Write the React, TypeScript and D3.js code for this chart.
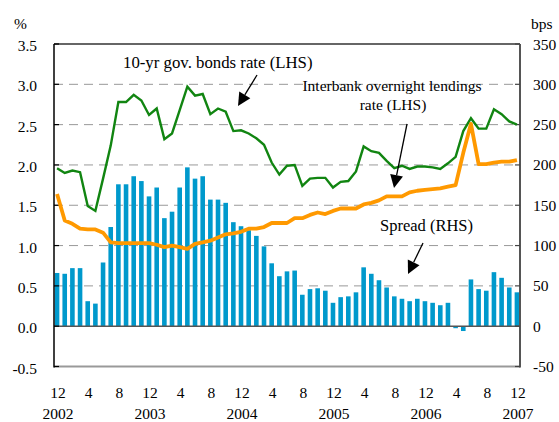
import React from 'react';
import * as d3 from 'd3';

// monthly periods, Dec 2002 .. Dec 2007
const months = d3.timeMonth.range(new Date(2002, 11, 1), new Date(2008, 0, 1));

// 10-yr government bonds rate, % (LHS)
const bondRate = [
  1.96, 1.9, 1.93, 1.91, 1.49, 1.43, 1.83, 2.24, 2.78, 2.78, 2.87, 2.8, 2.62,
  2.7, 2.32, 2.39, 2.68, 2.97, 2.86, 2.88, 2.63, 2.7, 2.66, 2.42, 2.43, 2.39,
  2.33, 2.25, 2.03, 1.88, 1.99, 2.0, 1.74, 1.83, 1.84, 1.84, 1.72, 1.79, 1.8,
  1.92, 2.23, 2.17, 2.15, 2.05, 1.96, 1.99, 1.95, 1.98, 1.98, 1.97, 1.95, 2.02,
  2.1, 2.42, 2.58, 2.45, 2.45, 2.69, 2.63, 2.54, 2.5,
];

// interbank overnight lendings rate, % (LHS)
const overnightRate = [
  1.64, 1.31, 1.27, 1.21, 1.2, 1.2, 1.16, 1.04, 1.03, 1.03, 1.03, 1.03, 1.03,
  1.01, 0.98, 1.0, 0.98, 0.96, 1.02, 1.04, 1.06, 1.1, 1.14, 1.15, 1.17, 1.21,
  1.21, 1.23, 1.28, 1.28, 1.28, 1.34, 1.34, 1.38, 1.41, 1.39, 1.43, 1.46, 1.46,
  1.46, 1.51, 1.53, 1.56, 1.61, 1.61, 1.61, 1.66, 1.68, 1.69, 1.7, 1.71, 1.73,
  1.75, 2.15, 2.51, 2.01, 2.01, 2.03, 2.04, 2.04, 2.06,
];

// spread, bps (RHS)
const spreadBps = [
  66, 65, 72, 72, 31, 28, 79, 123, 176, 176, 186, 180, 161, 172, 134, 142, 172,
  197, 183, 186, 157, 157, 153, 129, 124, 119, 112, 99, 78, 62, 68, 69, 39, 46,
  47, 44, 29, 36, 37, 42, 73, 65, 57, 48, 37, 34, 31, 34, 31, 29, 26, 29, -2.5,
  -6, 58, 46, 44, 67, 60, 48, 42,
];

const leftTicks = [-0.5, 0, 0.5, 1, 1.5, 2, 2.5, 3, 3.5];
const rightTicks = [-50, 0, 50, 100, 150, 200, 250, 300, 350];
const yearLabels = ['2002', '2003', '2004', '2005', '2006', '2007'];

const W = 559;
const H = 422;
const X0 = 54;
const X1 = 520;
const Y0 = 366.5;
const Y1 = 44;

const FONT = '"Liberation Serif", "Times New Roman", serif';

function Arrow({ x1, y1, x2, y2 }: { x1: number; y1: number; x2: number; y2: number }) {
  const dx = x2 - x1;
  const dy = y2 - y1;
  const len = Math.sqrt(dx * dx + dy * dy);
  const ux = dx / len;
  const uy = dy / len;
  const hl = 13;
  const hw = 6.5;
  const bx = x2 - ux * hl;
  const by = y2 - uy * hl;
  const pts = [
    [x2, y2],
    [bx - uy * hw, by + ux * hw],
    [bx + uy * hw, by - ux * hw],
  ];
  return (
    <g>
      <line x1={x1} y1={y1} x2={bx} y2={by} stroke="#000" strokeWidth={1.3} />
      <polygon points={pts.map((p) => p.join(',')).join(' ')} fill="#000" />
    </g>
  );
}

export default function App() {
  const idx = d3.range(months.length);
  const x = d3.scaleBand<number>().domain(idx).range([X0, X1]).paddingInner(0.4).paddingOuter(0.1);
  const yL = d3.scaleLinear().domain([-0.5, 3.5]).range([Y0, Y1]);
  const yR = d3.scaleLinear().domain([-50, 350]).range([Y0, Y1]);
  const cx = (i: number) => (x(i) as number) + x.bandwidth() / 2;

  const line = d3
    .line<number>()
    .x((_, i) => cx(i))
    .y((d) => yL(d));

  const monthTicks = idx.filter((i) => i % 4 === 0);
  const decTicks = idx.filter((i) => months[i].getMonth() === 11);

  return (
    <svg
      width={W}
      height={H}
      style={{ position: 'absolute', left: 0, top: 0, background: '#fff', fontFamily: FONT }}
    >
      {/* gridlines */}
      {leftTicks
        .filter((t) => t > -0.5 && t < 3.5 && t !== 0)
        .map((t) => (
          <line
            key={t}
            x1={X0}
            x2={X1}
            y1={yL(t)}
            y2={yL(t)}
            stroke="#999"
            strokeWidth={1}
            strokeDasharray="9,6"
          />
        ))}

      {/* spread bars */}
      {spreadBps.map((v, i) => (
        <rect
          key={i}
          x={x(i)}
          width={x.bandwidth()}
          y={Math.min(yR(v), yR(0))}
          height={Math.abs(yR(v) - yR(0))}
          fill="#0099cc"
        />
      ))}

      {/* frame */}
      <line x1={X0} x2={X1} y1={yL(0)} y2={yL(0)} stroke="#555" strokeWidth={1.5} />
      <line x1={X0} x2={X1} y1={Y1} y2={Y1} stroke="#666" strokeWidth={2} />
      <line x1={X0} x2={X1} y1={Y0} y2={Y0} stroke="#999" strokeWidth={2} />
      <line x1={X1} x2={X1} y1={Y1} y2={Y0 + 1} stroke="#555" strokeWidth={2} />
      <line x1={X0} x2={X0} y1={Y1} y2={Y0 + 1} stroke="#000" strokeWidth={1.5} />

      {leftTicks.map((t) => (
        <g key={t}>
          <line x1={X0} x2={X0 + 5} y1={yL(t)} y2={yL(t)} stroke="#000" strokeWidth={1.2} />
          <text x={37} y={yL(t) + 7} textAnchor="end" fontSize={15.5} fill="#000">
            {t.toFixed(1)}
          </text>
        </g>
      ))}
      {rightTicks.map((t) => (
        <g key={t}>
          <line x1={X1 - 5} x2={X1} y1={yR(t)} y2={yR(t)} stroke="#444" strokeWidth={1.2} />
          <text x={533} y={yR(t) + 5.5} textAnchor="start" fontSize={15.5} fill="#000">
            {t}
          </text>
        </g>
      ))}

      <text x={14} y={29} fontSize={15.5}>%</text>
      <text x={531} y={29} fontSize={15.5}>bps</text>

      {/* x labels */}
      {monthTicks.map((i) => (
        <text key={i} x={cx(i) + 1} y={397.5} textAnchor="middle" fontSize={15.5}>
          {months[i].getMonth() + 1}
        </text>
      ))}
      {decTicks.map((i, k) => (
        <text key={i} x={cx(i) + 1} y={419} textAnchor="middle" fontSize={15.5}>
          {yearLabels[k]}
        </text>
      ))}

      {/* lines */}
      <path d={line(bondRate) || ''} fill="none" stroke="#118511" strokeWidth={2.4} strokeLinejoin="miter" />
      <path d={line(overnightRate) || ''} fill="none" stroke="#ff9900" strokeWidth={3.8} strokeLinejoin="round" />

      {/* annotations */}
      <text x={123} y={68} fontSize={16.8}>10-yr gov. bonds rate (LHS)</text>
      <Arrow x1={257} y1={75} x2={238} y2={106} />
      <text x={392} y={91} fontSize={15.5} textAnchor="middle">Interbank overnight lendings</text>
      <text x={393} y={110} fontSize={15.5} textAnchor="middle">rate (LHS)</text>
      <Arrow x1={407} y1={124} x2={394} y2={188} />
      <text x={426.5} y={231} fontSize={16.5} textAnchor="middle">Spread (RHS)</text>
      <Arrow x1={423} y1={243} x2={408} y2={274} />
    </svg>
  );
}
